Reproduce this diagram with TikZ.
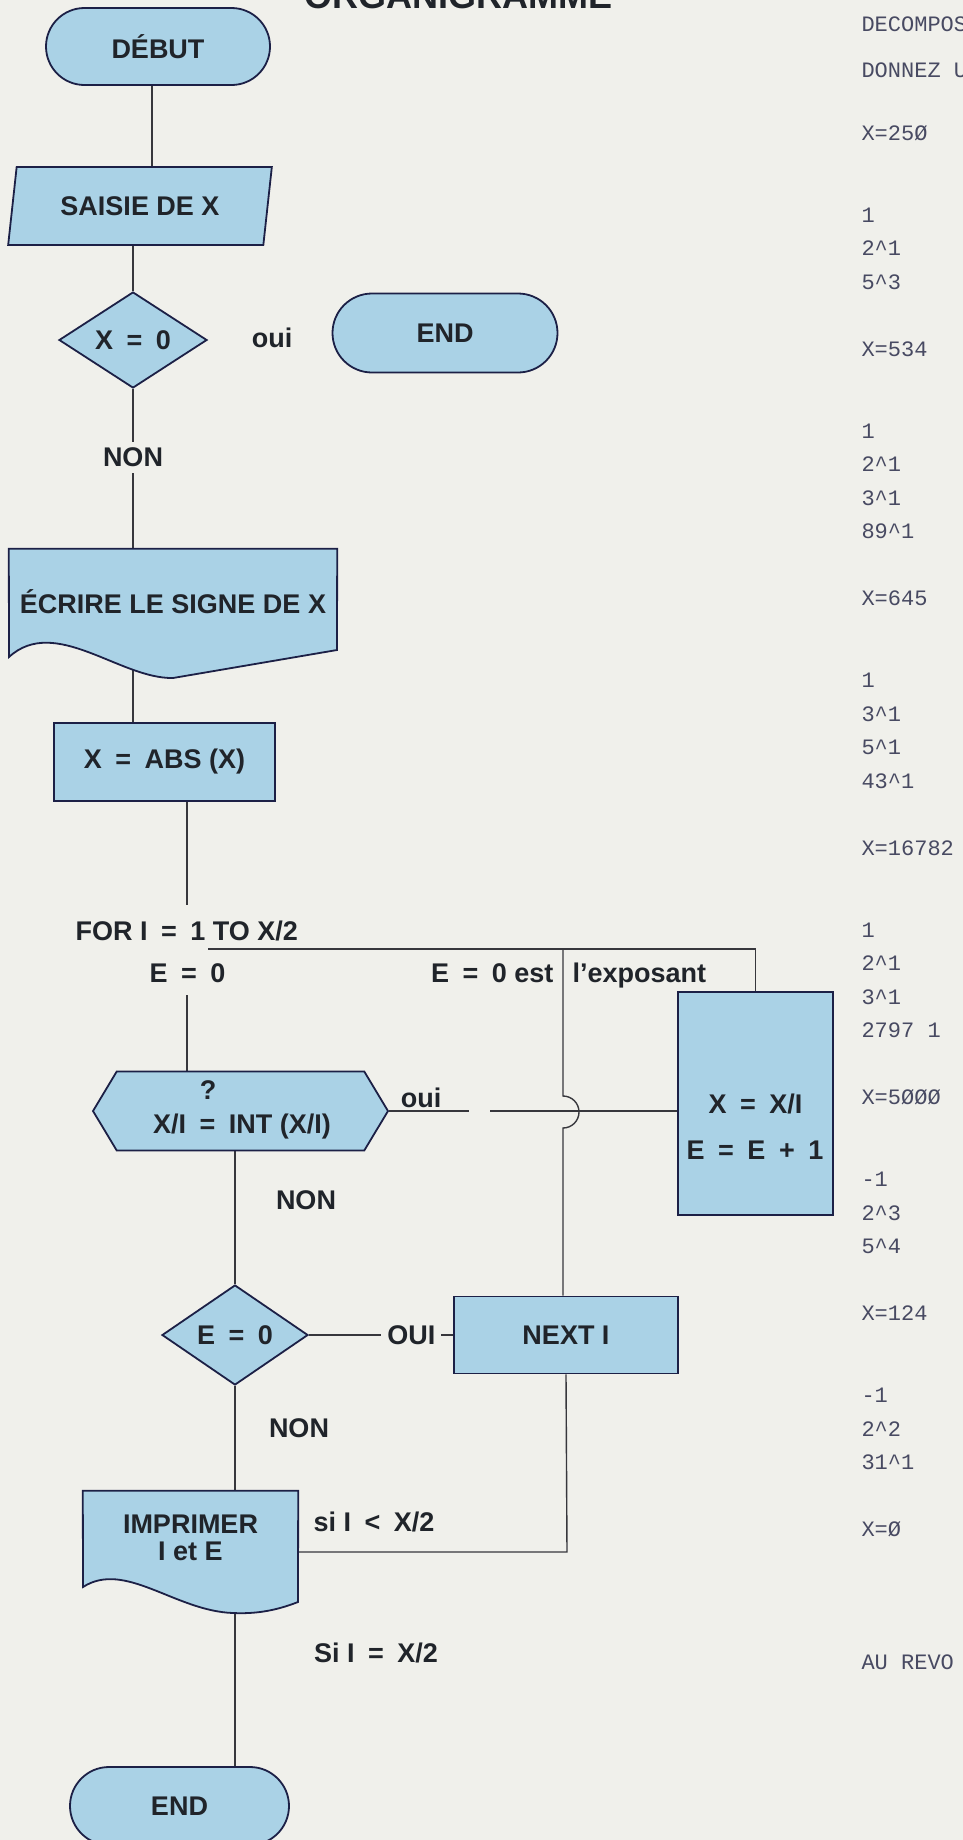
\documentclass[tikz,border=0pt]{standalone}
\usepackage{fontspec}
\setmainfont{Liberation Sans}
\setmonofont{Liberation Mono}
\usetikzlibrary{positioning,shapes.geometric,shapes.misc,shapes.symbols,calc}

\definecolor{paper}{RGB}{240,240,235}
\definecolor{boxblue}{RGB}{170,210,230}
\definecolor{ink}{RGB}{32,36,42}
\definecolor{edge}{RGB}{28,32,70}
\definecolor{wire}{RGB}{55,55,60}
\definecolor{printout}{RGB}{72,74,98}

\pgfdeclarelayer{paper}
\pgfdeclarelayer{background}
\pgfsetlayers{paper,background,main}

\newcommand{\op}[1]{\hspace{.5em}#1\hspace{.5em}}

\begin{document}
\begin{tikzpicture}[x=1pt,y=1pt,
    every node/.style={text=ink,font=\fontsize{27}{27}\selectfont\bfseries},
    box/.style={draw=edge,line width=1.8pt,fill=boxblue,inner sep=0pt},
    term/.style={box,rounded rectangle},
    proc/.style={box,rectangle},
    choice/.style={box,diamond},
    doc/.style={inner sep=0pt,align=center},
    wire/.style={draw=wire,line width=1.4pt},
    onwire/.style={fill=paper,inner sep=6pt},
    printline/.style={anchor=west,text=printout,font=\fontsize{22}{22}\selectfont\ttfamily}]

  \useasboundingbox (0,0) rectangle (963,-1840);
  \begin{pgfonlayer}{paper}
    \fill[paper] (0,0) rectangle (963,-1840);
  \end{pgfonlayer}

  \node[anchor=base west,font=\fontsize{36}{36}\selectfont\bfseries] (title) at (301,-8) {ORGANIGRAMME};

  % main column
  \node[term,minimum width=224pt,minimum height=77pt] (debut) at (158,-46.5) {DÉBUT};
  \node[box,trapezium,trapezium left angle=74,trapezium right angle=106,
        trapezium stretches,minimum width=264pt,minimum height=78pt] (saisie) at (140,-206) {SAISIE DE X};
  \node[choice,minimum width=148pt,minimum height=96pt] (xzero) at (133,-340) {X\op{=}0};
  \node[anchor=base] (oui1) at (272,-347) {oui};
  \node[term,minimum width=225pt,minimum height=79pt] (endtop) at (445,-333) {END};
  \node[doc,minimum width=328pt,minimum height=106pt] (ecrire) at (173,-602) {ÉCRIRE LE SIGNE DE X};
  \node[proc,minimum width=221pt,minimum height=78pt] (abs) at (164.5,-762) {X\op{=}ABS (X)};

  % loop on I
  \coordinate (spine) at (152,-100);
  \coordinate (loopin) at (187,-905);
  \coordinate (loopout) at (187,-995);
  \coordinate (looptop) at (208,-949);
  \coordinate (hop) at (563,-1096);
  \node[anchor=west] (forlbl) at (72,-931) {FOR I\op{=}1 TO X/2};
  \node (einit) at (187.5,-973) {E\op{=}0};
  \node[anchor=base east] (expo1) at (557,-982) {E\op{=}0 est};
  \node[anchor=base west] (expo2) at (569,-982) {l’exposant};
  \node[box,signal,signal to=west and east,signal pointer angle=118,
        minimum width=295pt,minimum height=79pt] (test) at (240.5,-1111) {};
  \node (testq) at (208,-1090) {?};
  \node (testtxt) at (242,-1127) {X/I\op{=}INT (X/I)};
  \node[anchor=base] (oui2) at (421,-1107) {oui};
  \coordinate (ouiend) at (469,-1111);
  \coordinate (ouiback) at (490,-1111);
  \node[proc,minimum width=155pt,minimum height=223pt] (xdiv) at (755.5,-1103.5) {X\op{=}X/I};
  \node (incr) at (755,-1150) {E\op{=}E\op{+}1};
  \node (non2) at (306,-1200) {NON};
  \node[choice,minimum width=146pt,minimum height=100pt] (ez) at (235,-1335) {E\op{=}0};
  \node[proc,minimum width=224pt,minimum height=77pt] (next) at (566,-1335) {NEXT I};
  \node (non3) at (299,-1428) {NON};
  \node[doc,minimum width=215pt,minimum height=94pt] (imprimer) at (190.5,-1538) {IMPRIMER\\I et E};
  \coordinate (back) at (567,-1552);
  \node (silt) at (374,-1522) {si I\op{<}X/2};
  \node (sieq) at (376,-1653) {Si I\op{=}X/2};
  \node[term,minimum width=219pt,minimum height=78pt] (endbot) at (179.5,-1806) {END};

  \begin{pgfonlayer}{background}
    \draw[wire] (debut.south -| spine) -- (saisie.north -| spine);
    \draw[wire] (saisie.south -| xzero) -- (xzero.north);
    \draw[wire] (xzero.south) -- node[onwire,pos=.43] (non1) {NON} (ecrire.north -| xzero);
    \draw[wire] (ecrire.south -| xzero) -- (abs.north -| xzero);
    \draw[wire] (abs.south -| loopin) -- (loopin);
    \draw[wire] (looptop) -- (looptop -| xdiv) -- (xdiv.north);
    \draw[wire] (hop |- looptop) -- (hop) arc[start angle=90,end angle=-90,radius=16pt]
      -- (next.north -| hop);
    \draw[wire] (loopout) -- (test.north -| loopout);
    \draw[wire] (test.east) -- (ouiend);
    \draw[wire] (ouiback) -- (xdiv.west |- ouiback);
    \draw[wire] (test.south -| ez) -- (ez.north);
    \draw[wire] (ez.east) -- node[onwire,pos=.71] (oui3) {OUI} (next.west);
    \draw[wire] (ez.south) -- (imprimer.north -| ez.south);
    \draw[wire] (next.south) -- (back) -- (back -| imprimer.east);
    \draw[wire] (imprimer.south -| ez.south) -- (endbot.north -| ez.south);
    % document shapes
    \draw[box] (ecrire.north west) -- (ecrire.north east) -- (337,-650) -- (173,-678)
      .. controls (120,-679) and (55,-615) .. (9,-657) -- cycle;
    \draw[box] (imprimer.north west) -- (imprimer.north east) -- (298,-1602)
      .. controls (275,-1611) and (255,-1614) .. (233,-1613)
      .. controls (175,-1611) and (125,-1560) .. (83,-1587) -- cycle;
  \end{pgfonlayer}

  % printout
  \foreach \yy/\txt [count=\i] in {24/DECOMPOS,70/DONNEZ U,133/X=25Ø,
      215/1,248.5/2\textasciicircum 1,282/5\textasciicircum 3,349/X=534,
      431/1,464.5/2\textasciicircum 1,498/3\textasciicircum 1,531.5/89\textasciicircum 1,598.5/X=645,
      680.5/1,714/3\textasciicircum 1,747.5/5\textasciicircum 1,781/43\textasciicircum 1,848/X=16782,
      930/1,963.5/2\textasciicircum 1,997/3\textasciicircum 1,1030.5/2797 1,1097.5/X=5ØØØ,
      1179.5/-1,1213/2\textasciicircum 3,1246.5/5\textasciicircum 4,1313.5/X=124,
      1395.5/-1,1429/2\textasciicircum 2,1462.5/31\textasciicircum 1,1529.5/X=Ø,1662/AU REVO}
    \node[printline] (line\i) at (858,-\yy) {\txt};

\end{tikzpicture}
\end{document}
